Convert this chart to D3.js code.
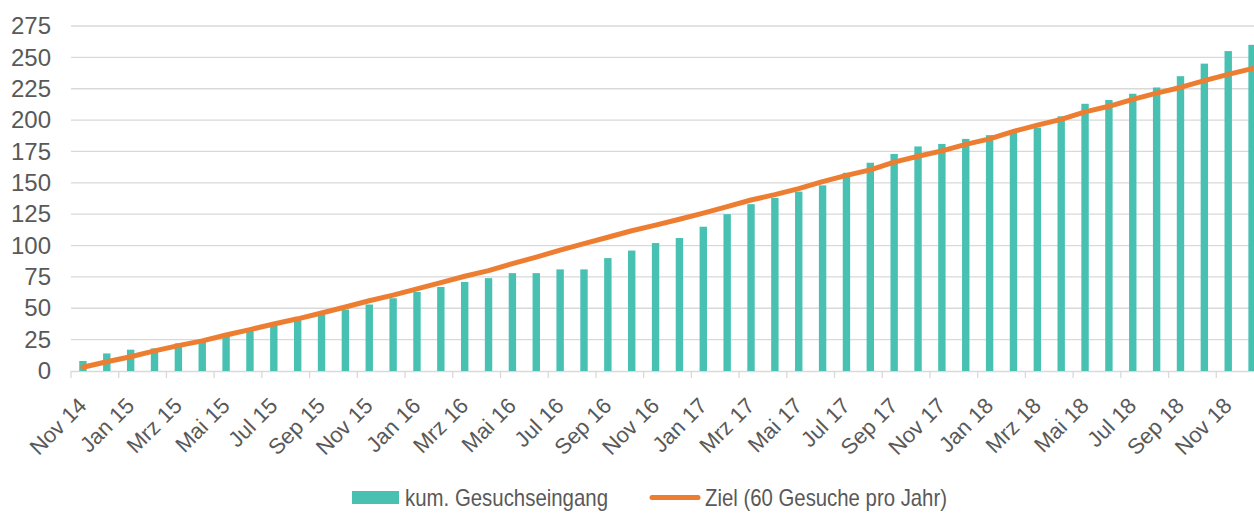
<!DOCTYPE html>
<html>
<head>
<meta charset="utf-8">
<script src="https://cdn.jsdelivr.net/npm/d3@7"></script>
<style>
  body { margin: 0; background: #fff; }
  svg { display: block; }
</style>
</head>
<body>
<svg id="chart" width="1254" height="514"></svg>
<script>
// month labels, Nov 14 .. Dez 18
const monthNames = ["Jan", "Feb", "Mrz", "Apr", "Mai", "Jun", "Jul", "Aug", "Sep", "Okt", "Nov", "Dez"];
const months = [];
for (let i = 0; i < 50; i++) {
  const m = (10 + i) % 12;
  const yr = 14 + Math.floor((10 + i) / 12);
  months.push(monthNames[m] + " " + yr);
}

// kum. Gesuchseingang
const received = [
  8, 14, 17, 18, 22, 25, 28, 32, 37, 42,
  45, 49, 53, 58, 63, 67, 71, 74, 78, 78,
  81, 81, 90, 96, 102, 106, 115, 125, 133, 138,
  143, 148, 158, 166, 173, 179, 181, 185, 188, 191,
  194, 203, 213, 216, 221, 226, 235, 245, 255, 260
];

// Ziel (60 Gesuche pro Jahr)
const target = [
  3, 7.4, 11.4, 16, 20.2, 24, 28.7, 33, 37.5, 41.6,
  46.2, 51, 56, 60.5, 65.5, 70.5, 75.5, 80, 85.6, 90.8,
  96.4, 101.5, 106.6, 111.8, 116.3, 121, 125.8, 131, 136.3, 140.6,
  145.4, 151, 155.9, 160.3, 166.5, 171.2, 175.5, 180.6, 185, 191,
  196, 200.6, 206.5, 211, 216.5, 221.5, 226, 231.5, 236.4, 241
];

const yTicks = d3.range(0, 276, 25);

const svg = d3.select("#chart");
const plot = { left: 71, right: 71 + 50 * 23.86, top: 26, bottom: 371 };
const textColor = "#595959";

const x = d3.scaleBand()
  .domain(months)
  .range([plot.left, plot.right])
  .paddingInner(0.69)
  .paddingOuter(0.345);

const y = d3.scaleLinear().domain([0, 275]).range([plot.bottom, plot.top]);

// gridlines
svg.append("g")
  .selectAll("line")
  .data(yTicks.filter(d => d > 0))
  .join("line")
  .attr("x1", plot.left)
  .attr("x2", 1254)
  .attr("y1", d => y(d))
  .attr("y2", d => y(d))
  .attr("stroke", "#d9d9d9")
  .attr("stroke-width", 1.3);

// y axis labels
const yAxis = svg.append("g")
  .attr("transform", `translate(${plot.left},0)`)
  .call(d3.axisLeft(y).tickValues(yTicks).tickSize(0).tickPadding(20));
yAxis.select(".domain").remove();
yAxis.selectAll("text")
  .attr("font-family", "'Liberation Sans', Arial, sans-serif")
  .attr("font-size", 24)
  .attr("fill", textColor);

// x axis: line + tick every 2 months at category boundaries
const step = x.step();
const g = svg.append("g");
g.append("line")
  .attr("x1", plot.left).attr("x2", 1254)
  .attr("y1", plot.bottom + 0.5).attr("y2", plot.bottom + 0.5)
  .attr("stroke", "#d9d9d9").attr("stroke-width", 1.3);
g.selectAll(".tick")
  .data(months.filter((d, i) => i % 2 === 0))
  .join("line")
  .attr("class", "tick")
  .attr("x1", d => x(d) - x.paddingOuter() * step)
  .attr("x2", d => x(d) - x.paddingOuter() * step)
  .attr("y1", plot.bottom)
  .attr("y2", plot.bottom + 7)
  .attr("stroke", "#d9d9d9").attr("stroke-width", 1.3);

g.selectAll(".lbl")
  .data(months.filter((d, i) => i % 2 === 0))
  .join("text")
  .attr("class", "lbl")
  .attr("transform", d => `translate(${x(d) + x.bandwidth() / 2 + 5},${plot.bottom + 36}) rotate(-45)`)
  .attr("text-anchor", "end")
  .attr("font-family", "'Liberation Sans', Arial, sans-serif")
  .attr("font-size", 22)
  .attr("fill", textColor)
  .text(d => d);

// bars
svg.append("g")
  .selectAll("rect")
  .data(received)
  .join("rect")
  .attr("x", (d, i) => x(months[i]))
  .attr("width", x.bandwidth())
  .attr("y", d => y(d))
  .attr("height", d => y(0) - y(d))
  .attr("fill", "#48c1b3");

// target line
const line = d3.line()
  .x((d, i) => x(months[i]) + x.bandwidth() / 2)
  .y(d => y(d));

svg.append("path")
  .datum(target)
  .attr("d", line)
  .attr("fill", "none")
  .attr("stroke", "#ed7d31")
  .attr("stroke-width", 5)
  .attr("stroke-linecap", "round")
  .attr("stroke-linejoin", "round");

// legend
const legend = svg.append("g");
legend.append("rect")
  .attr("x", 352).attr("y", 491)
  .attr("width", 47).attr("height", 13)
  .attr("fill", "#48c1b3");
legend.append("text")
  .attr("x", 405).attr("y", 506)
  .attr("font-family", "'Liberation Sans Narrow', 'Arial Narrow', 'Liberation Sans', sans-serif")
  .attr("font-size", 24)
  .attr("fill", textColor)
  .attr("textLength", 203)
  .attr("lengthAdjust", "spacingAndGlyphs")
  .text("kum. Gesuchseingang");
legend.append("line")
  .attr("x1", 652).attr("x2", 698)
  .attr("y1", 497.5).attr("y2", 497.5)
  .attr("stroke", "#ed7d31")
  .attr("stroke-width", 5)
  .attr("stroke-linecap", "round");
legend.append("text")
  .attr("x", 705).attr("y", 506)
  .attr("font-family", "'Liberation Sans Narrow', 'Arial Narrow', 'Liberation Sans', sans-serif")
  .attr("font-size", 24)
  .attr("fill", textColor)
  .attr("textLength", 242)
  .attr("lengthAdjust", "spacingAndGlyphs")
  .text("Ziel (60 Gesuche pro Jahr)");
</script>
</body>
</html>
